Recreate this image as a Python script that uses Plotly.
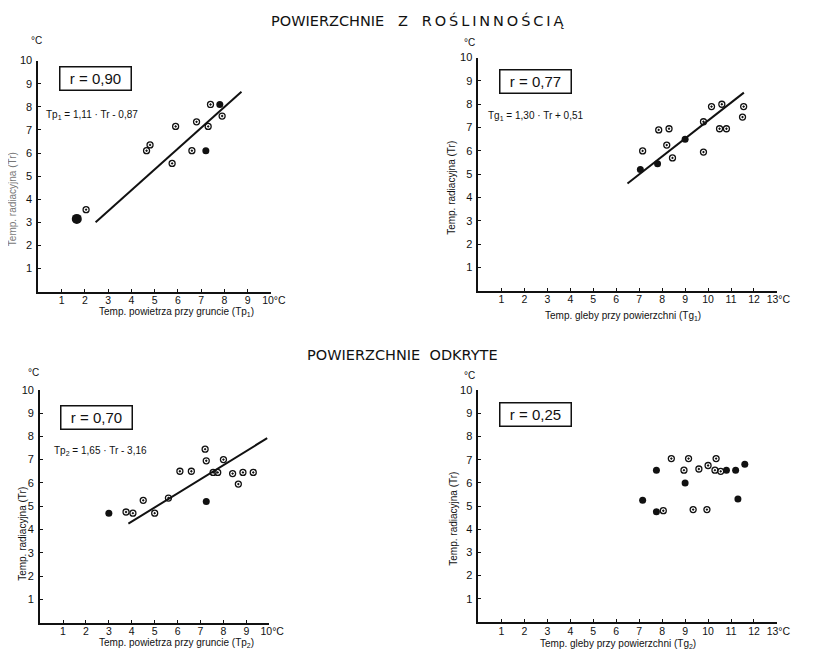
import plotly.graph_objects as go

# the page adds an 8px body margin; size the figure so page == 813x660
OFF = 8
W, H = 813 - 2 * OFF, 660 - 2 * OFF

# ---------------- data ----------------
# Panel 1: surfaces with vegetation, air temp at ground (Tp1) vs radiation temp (Tr)
p1_open_x = [7.4, 7.9, 6.8, 7.3, 5.9, 4.8, 4.65, 6.6, 5.75, 2.05]
p1_open_y = [8.1, 7.6, 7.35, 7.15, 7.15, 6.35, 6.1, 6.1, 5.55, 3.55]
p1_fill_x = [7.8, 7.2]
p1_fill_y = [8.1, 6.1]
p1_big_x = [1.65]
p1_big_y = [3.15]
p1_coef = [1.11, -0.87]
p1_tr_range = [3.0, 8.65]

# Panel 2: surfaces with vegetation, soil temp at surface (Tg1) vs Tr
p2_open_x = [7.15, 7.85, 8.3, 8.2, 8.45, 9.8, 9.8, 10.15, 10.6, 10.5, 10.8, 11.55, 11.5]
p2_open_y = [6.0, 6.9, 6.95, 6.25, 5.7, 7.25, 5.95, 7.9, 8.0, 6.95, 6.95, 7.9, 7.45]
p2_fill_x = [7.05, 7.8, 9.0]
p2_fill_y = [5.2, 5.45, 6.5]
p2_coef = [1.30, 0.51]
p2_tr_range = [4.6, 8.5]

# Panel 3: bare surfaces, air temp at ground (Tp2) vs Tr
p3_open_x = [3.75, 4.05, 4.5, 5.0, 5.6, 6.1, 6.6, 7.2, 7.25, 7.55, 7.75, 8.0, 8.4, 8.65, 8.85, 9.3]
p3_open_y = [4.75, 4.7, 5.25, 4.7, 5.35, 6.5, 6.5, 7.45, 6.95, 6.45, 6.45, 7.0, 6.4, 5.95, 6.45, 6.45]
p3_fill_x = [3.0, 7.25]
p3_fill_y = [4.7, 5.2]
p3_coef = [1.65, -3.16]
p3_tr_range = [4.25, 7.92]

# Panel 4: bare surfaces, soil temp at surface (Tg2) vs Tr
p4_open_x = [8.05, 8.4, 8.95, 9.15, 9.35, 9.6, 9.95, 10.0, 10.35, 10.3, 10.55]
p4_open_y = [4.8, 7.05, 6.55, 7.05, 4.85, 6.6, 4.85, 6.75, 7.05, 6.55, 6.5]
p4_fill_x = [7.15, 7.75, 7.75, 9.0, 10.8, 11.2, 11.3, 11.6]
p4_fill_y = [5.25, 6.55, 4.75, 6.0, 6.55, 6.55, 5.3, 6.8]

x_ticks_10 = list(range(1, 11))
x_ticks_13 = list(range(1, 14))
y_ticks = list(range(1, 11))
x_text_10 = [str(v) for v in range(1, 10)] + ["\u00a0\u00a010°C"]
x_text_13 = [str(v) for v in range(1, 13)] + ["\u00a013°C"]

# ---------------- helpers (reference-pixel -> paper) ----------------
def px(x):
    return (x - OFF) / W

def py(y):
    return 1 - (y - OFF) / H

FONT = "Liberation Sans"
BLACK = "#111111"

fig = go.Figure()

panels = [
    dict(ax="", dx=[39, 276], dy=[288.3, 55], xmax=10,
         ox=p1_open_x, oy=p1_open_y, fx=p1_fill_x, fy=p1_fill_y,
         coef=p1_coef, trr=p1_tr_range),
    dict(ax="2", dx=[487.5, 791.7], dy=[287.5, 52], xmax=13,
         ox=p2_open_x, oy=p2_open_y, fx=p2_fill_x, fy=p2_fill_y,
         coef=p2_coef, trr=p2_tr_range),
    dict(ax="3", dx=[40.7, 274.3], dy=[622.3, 387.3], xmax=10,
         ox=p3_open_x, oy=p3_open_y, fx=p3_fill_x, fy=p3_fill_y,
         coef=p3_coef, trr=p3_tr_range),
    dict(ax="4", dx=[487.5, 791.7], dy=[621.7, 387.7], xmax=13,
         ox=p4_open_x, oy=p4_open_y, fx=p4_fill_x, fy=p4_fill_y,
         coef=None, trr=None),
]

layout_axes = {}
for p in panels:
    a = p["ax"]
    xa, ya = "x" + a, "y" + a
    if p["coef"] is not None:
        tr = p["trr"]
        lx = [p["coef"][0] * t + p["coef"][1] for t in tr]
        fig.add_trace(go.Scatter(x=lx, y=tr, mode="lines", xaxis=xa, yaxis=ya,
                                 line=dict(color=BLACK, width=2), showlegend=False,
                                 hoverinfo="skip"))
    fig.add_trace(go.Scatter(x=p["ox"], y=p["oy"], mode="markers", xaxis=xa, yaxis=ya,
                             marker=dict(symbol="circle-open-dot", size=6,
                                         color=BLACK, line=dict(width=1.3, color=BLACK)),
                             showlegend=False))
    fig.add_trace(go.Scatter(x=p["fx"], y=p["fy"], mode="markers", xaxis=xa, yaxis=ya,
                             marker=dict(symbol="circle", size=7, color=BLACK),
                             showlegend=False))
    xmax = p["xmax"]
    layout_axes["xaxis" + a] = dict(
        domain=[px(p["dx"][0]), px(p["dx"][1])], range=[0, xmax],
        anchor=ya, showgrid=False, zeroline=False, showline=True,
        linecolor=BLACK, linewidth=2, ticks="inside", ticklen=3, tickwidth=1,
        tickcolor=BLACK, tickangle=0,
        tickvals=x_ticks_10 if xmax == 10 else x_ticks_13,
        ticktext=x_text_10 if xmax == 10 else x_text_13,
        tickfont=dict(family=FONT, size=10.5, color=BLACK), ticklabelstandoff=-2,
        fixedrange=True)
    layout_axes["yaxis" + a] = dict(
        domain=[py(p["dy"][0]), py(p["dy"][1])], range=[0, 10],
        anchor=xa, showgrid=False, zeroline=False, showline=True,
        linecolor=BLACK, linewidth=2, ticks="inside", ticklen=3, tickwidth=1,
        tickcolor=BLACK, tickvals=y_ticks,
        tickfont=dict(family=FONT, size=11, color=BLACK), ticklabelstandoff=2,
        fixedrange=True)

fig.add_trace(go.Scatter(x=p1_big_x, y=p1_big_y, mode="markers", xaxis="x", yaxis="y",
                         marker=dict(symbol="circle", size=10, color=BLACK),
                         showlegend=False))

ann = []

def text(x, y, s, size=11, xanchor="center", angle=0, color=BLACK, family=FONT):
    ann.append(dict(x=px(x), y=py(y), xref="paper", yref="paper", text=s,
                    showarrow=False, xanchor=xanchor, yanchor="middle",
                    textangle=angle, font=dict(family=family, size=size, color=color)))

def rbox(x, y, s):
    ann.append(dict(x=px(x), y=py(y), xref="paper", yref="paper", text=s,
                    showarrow=False, xanchor="center", yanchor="middle",
                    font=dict(family=FONT, size=15, color=BLACK),
                    bordercolor=BLACK, borderwidth=1.5, borderpad=2,
                    width=66, height=18, bgcolor="white"))

# section titles (letter-spaced)
NB = "\u00a0"
TS = "\u2009"
title1 = "POWIERZCHNIE" + NB * 3 + "Z" + NB * 3 + TS.join("ROŚLINNOŚCIĄ")
text(425, 15, title1, size=14.5, family="DejaVu Sans")
text(410, 352, "POWIERZCHNIE" + NB * 2 + "ODKRYTE", size=14.5, family="DejaVu Sans")

# degree labels above y axes
text(37, 35, "°C", size=10)
text(478, 37, "°C", size=10)
text(34, 370, "°C", size=10)
text(478, 373, "°C", size=10)

# r boxes
rbox(97, 73, "r = 0,90")
rbox(546, 76, "r = 0,77")
rbox(98, 415, "r = 0,70")
rbox(546, 412, "r = 0,25")

# regression equations
text(45, 110, "Tp<sub>1</sub> = 1,11 · Tr - 0,87", size=10, xanchor="left")
text(495, 111, "Tg<sub>1</sub> = 1,30 · Tr + 0,51", size=10, xanchor="left")
text(53, 449, "Tp<sub>2</sub> = 1,65 · Tr - 3,16", size=10, xanchor="left")

# axis titles
text(180, 309, "Temp. powietrza przy gruncie (Tp<sub>1</sub>)", size=10)
text(635, 313, "Temp. gleby przy powierzchni (Tg<sub>1</sub>)", size=10)
text(180, 643, "Temp. powietrza przy gruncie (Tp<sub>2</sub>)", size=10)
text(630, 644, "Temp. gleby przy powierzchni (Tg<sub>2</sub>)", size=10)

text(12, 195, "Temp. radiacyjna (Tr)", size=10, angle=-90, color="#777777")
text(460, 183, "Temp. radiacyjna (Tr)", size=10, angle=-90)
text(22, 533, "Temp. radiacyjna (Tr)", size=10, angle=-90)
text(462, 517, "Temp. radiacyjna (Tr)", size=10, angle=-90)

fig.update_layout(width=W, height=H, margin=dict(l=0, r=0, t=0, b=0),
                  paper_bgcolor="white", plot_bgcolor="white",
                  annotations=ann, showlegend=False, **layout_axes)

fig.write_html("out.html")
